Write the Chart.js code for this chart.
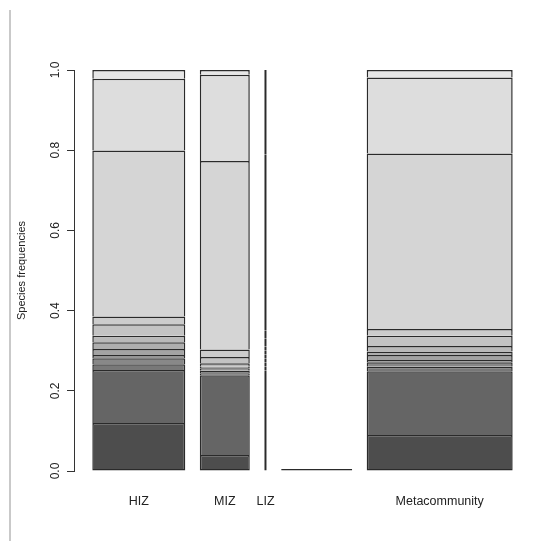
<!DOCTYPE html>
<html><head><meta charset="utf-8">
<script src="https://cdn.jsdelivr.net/npm/chart.js@4.4.1/dist/chart.umd.min.js"></script>
<style>html,body{margin:0;padding:0;background:#fff}canvas{display:block}</style>
</head><body>
<canvas id="c" width="559" height="549"></canvas>
<script>
// ---- data (species frequencies, bottom species first) ----
const categories = ['HIZ', 'MIZ', 'LIZ', '', 'Metacommunity'];
const hizFreq   = [0.120, 0.132, 0.014, 0.015, 0.008, 0.015, 0.017, 0.016, 0.029, 0.019, 0.414, 0.179, 0.022];
const mizFreq   = [0.040, 0.199, 0.005, 0.006, 0.006, 0.000, 0.004, 0.009, 0.015, 0.019, 0.470, 0.215, 0.012];
const lizFreq   = [0.100, 0.150, 0.010, 0.010, 0.010, 0.010, 0.010, 0.010, 0.020, 0.020, 0.440, 0.190, 0.020];
const blankFreq = [0, 0, 0, 0, 0, 0, 0, 0, 0, 0, 0, 0, 0];
const metaFreq  = [0.090, 0.159, 0.011, 0.011, 0.006, 0.012, 0.009, 0.014, 0.025, 0.017, 0.438, 0.189, 0.019];
const yTickValues = [0, 0.2, 0.4, 0.6, 0.8, 1.0];

// ---- styling / layout ----
const speciesGrayLevels = [77, 101, 120, 136, 150, 163, 174, 185, 195, 204, 213, 221, 230];
const barWidths = [93, 50, 2.4, 71, 146];
const xMin = -3.8, xMax = 450.2;
const BORDER = '#2a2a2a';
const FONT = "'Liberation Sans', Arial, Helvetica, sans-serif";

const allFreq = [hizFreq, mizFreq, lizFreq, blankFreq, metaFreq];
const space = 0.2 * barWidths.reduce((a, b) => a + b, 0) / barWidths.length;
const centers = [];
let pos = 0;
barWidths.forEach(w => { pos += space; centers.push(pos + w / 2); pos += w; });

const datasets = [];
allFreq.forEach((freqs, c) => {
  freqs.forEach((v, s) => {
    const g = speciesGrayLevels[s];
    datasets.push({
      label: categories[c] + ' sp' + (s + 1),
      data: [{ x: centers[c], y: v }],
      backgroundColor: `rgb(${g},${g},${g})`,
      borderColor: BORDER,
      borderWidth: s === 0 ? { top: 1.5, bottom: 1.5, left: 1.5, right: 1.5 }
                           : { top: 1.5, bottom: 0, left: 1.5, right: 1.5 },
      borderSkipped: false,
      inflateAmount: 0,
      stack: 'all',
      barThickness: barWidths[c],
      minBarLength: (c === 3 && s === 0) ? 2 : 0,
      _cat: c
    });
  });
});

const framePlugin = {
  id: 'frame',
  beforeDraw(chart) {
    const ctx = chart.ctx;
    ctx.save();
    ctx.strokeStyle = '#c9c9c9';
    ctx.lineWidth = 2;
    ctx.beginPath();
    ctx.moveTo(10, 10);
    ctx.lineTo(10, 541);
    ctx.stroke();
    ctx.restore();
  }
};

Chart.defaults.font.family = FONT;
Chart.defaults.color = '#222';

const chart = new Chart(document.getElementById('c'), {
  type: 'bar',
  data: { datasets },
  options: {
    responsive: false,
    animation: false,
    layout: { padding: { top: 70, right: 31, left: 0, bottom: 0 } },
    plugins: { legend: { display: false }, tooltip: { enabled: false } },
    scales: {
      x: {
        type: 'linear',
        offset: false,
        min: xMin, max: xMax,
        grid: { display: false, drawTicks: false, offset: false },
        border: { display: false },
        afterBuildTicks(scale) { scale.ticks = centers.map(v => ({ value: v })); },
        afterFit(scale) { scale.height = 78; },
        ticks: {
          autoSkip: false, maxRotation: 0, minRotation: 0, padding: 23,
          font: { size: 12.5 }, color: '#222',
          callback: (v, i) => categories[i]
        }
      },
      y: {
        type: 'linear',
        stacked: true,
        min: 0, max: 1,
        afterBuildTicks(scale) { scale.ticks = yTickValues.map(v => ({ value: v })); },
        afterFit(scale) { scale.width = 74; },
        grid: { display: true, drawOnChartArea: false, drawTicks: true, tickLength: 7, color: '#333', lineWidth: 1 },
        border: { display: true, color: '#333', width: 1 },
        ticks: {
          minRotation: 90, maxRotation: 90, crossAlign: 'center', padding: 3,
          font: { size: 12 }, color: '#222',
          callback: v => Number(v).toFixed(1)
        },
        title: {
          display: true, text: 'Species frequencies',
          font: { size: 11 }, color: '#222',
          padding: { top: 15, bottom: 0 }
        }
      }
    }
  },
  plugins: [framePlugin]
});

// scale bar thickness to units of the x axis
const xs = chart.scales.x;
const ppu = xs.width / (xMax - xMin);
chart.data.datasets.forEach(ds => { ds.barThickness = barWidths[ds._cat] * ppu; });
chart.update('none');
</script>
</body></html>
